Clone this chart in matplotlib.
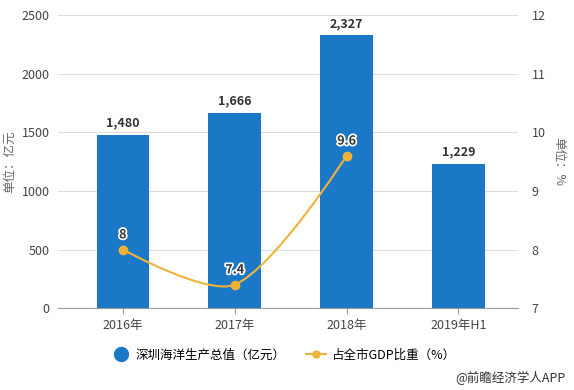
import matplotlib
matplotlib.use('Agg')
import matplotlib.pyplot as plt
from matplotlib.path import Path
from matplotlib.patches import PathPatch
from matplotlib.lines import Line2D
import matplotlib.patheffects as pe
import numpy as np

plt.rcParams['font.family'] = ['Noto Sans CJK SC', 'DejaVu Sans']

# 数据
years = ['2016年', '2017年', '2018年', '2019年H1']
output = [1480, 1666, 2327, 1229]          # 深圳海洋生产总值（亿元）
share_years = [0, 1, 2]                     # 占比只有前三年
share = [8, 7.4, 9.6]                       # 占全市GDP比重（%）
output_labels = ['1,480', '1,666', '2,327', '1,229']
share_labels = ['8', '7.4', '9.6']

bar_color = '#1a78c6'
line_color = '#efb33a'

fig = plt.figure(figsize=(5.74, 3.90), dpi=100)
ax = fig.add_axes([0.101, 0.21, 0.801, 0.751])
ax2 = ax.twinx()

x = np.arange(len(years))
ax.bar(x, output, width=0.47, color=bar_color, zorder=2)
for xi, v, t in zip(x, output, output_labels):
    ax.text(xi, v + 45, t, ha='center', va='bottom', fontsize=9,
            fontweight='bold', color='#333333', zorder=5)

ax.set_ylim(0, 2500)
ax.set_yticks(range(0, 2501, 500))
ax.set_xlim(-0.58, 3.53)
ax.set_xticks(x)
ax.set_xticklabels(years)
ax.grid(axis='y', color='#dddddd', linewidth=0.8, zorder=0)
ax.set_axisbelow(True)
for s in ['top', 'right', 'left']:
    ax.spines[s].set_visible(False)
ax.spines['bottom'].set_color('#999999')
ax.tick_params(axis='y', length=0, labelsize=9, colors='#444444', pad=6)
ax.tick_params(axis='x', length=4, color='#999999', labelsize=9, colors='#444444')
ax.set_ylabel('单位：亿元', fontsize=9, color='#666666', labelpad=4)

ax2.set_ylim(7, 12)
ax2.set_yticks(range(7, 13))
for s in ['top', 'right', 'left', 'bottom']:
    ax2.spines[s].set_visible(False)
ax2.tick_params(axis='y', length=0, labelsize=9, colors='#444444', pad=10)
ax2.set_ylabel('单位：%', fontsize=9, color='#666666', rotation=-90, labelpad=14)

# 平滑曲线（类似 echarts smooth）
sx, sy = 112.0, 58.6
pts = np.array([[a * sx, b * sy] for a, b in zip(share_years, share)])
smooth = 0.3
cps = []
for i in range(len(pts)):
    if i == 0 or i == len(pts) - 1:
        cps.append((pts[i], pts[i]))
        continue
    v = (pts[i + 1] - pts[i - 1]) * smooth
    d0 = np.linalg.norm(pts[i] - pts[i - 1])
    d1 = np.linalg.norm(pts[i + 1] - pts[i])
    tot = d0 + d1
    cps.append((pts[i] - v * d0 / tot, pts[i] + v * d1 / tot))
verts = [pts[0]]
codes = [Path.MOVETO]
for i in range(len(pts) - 1):
    verts += [cps[i][1], cps[i + 1][0], pts[i + 1]]
    codes += [Path.CURVE4] * 3
verts = np.array(verts) / np.array([sx, sy])
ax2.add_patch(PathPatch(Path(verts, codes), facecolor='none',
                        edgecolor=line_color, linewidth=1.5, zorder=3))
ax2.plot(share_years, share, 'o', color=line_color, markersize=6, zorder=4)
for xi, v, t in zip(share_years, share, share_labels):
    ax2.text(xi, v + 0.14, t, ha='center', va='bottom', fontsize=9,
             fontweight='bold', color='#333333', zorder=6,
             path_effects=[pe.withStroke(linewidth=2.5, foreground='white')])

handles = [
    Line2D([], [], marker='o', linestyle='none', color=bar_color, markersize=10),
    Line2D([], [], marker='o', color=line_color, markersize=5, linewidth=1.5),
]
fig.legend(handles, ['深圳海洋生产总值（亿元）', '占全市GDP比重（%）'],
           loc='center', bbox_to_anchor=(0.493, 0.09), ncol=2, frameon=False,
           fontsize=9, handlelength=1.6, columnspacing=1.6, handletextpad=0.4)

fig.text(0.985, 0.03, '@前瞻经济学人APP', ha='right', va='center',
         fontsize=9, color='#333333')

fig.savefig('out.png', dpi=100)
